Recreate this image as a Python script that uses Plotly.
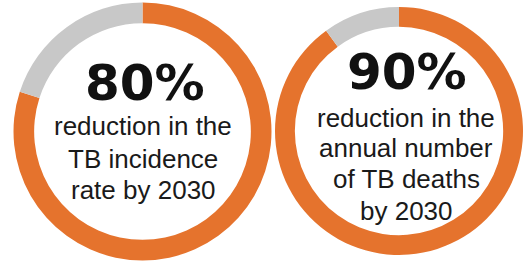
import plotly.graph_objects as go

# Data
targets = ["80%", "90%"]
reduction_pct = [80, 90]
slice_labels = ["Reduction", "Remaining"]
text_lines = [
    ["reduction in the", "TB incidence", "rate by 2030"],
    ["reduction in the", "annual number", "of TB deaths", "by 2030"],
]

W, H = 524, 263
ORANGE = "#E5732D"
GRAY = "#C8C8C8"

# ring geometry in px (center x, center y, radius)
rings = [(142.5, 131.5, 129), (399, 131, 124)]

fig = go.Figure()
for i, (cx, cy, r) in enumerate(rings):
    vals = [reduction_pct[i], 100 - reduction_pct[i]]
    fig.add_trace(go.Pie(
        values=vals, labels=slice_labels, sort=False,
        direction="clockwise", rotation=0,
        hole=0.84, textinfo="none", hoverinfo="label+value",
        marker=dict(colors=[ORANGE, GRAY], line=dict(width=0)),
        domain=dict(x=[(cx - r) / W, (cx + r) / W],
                    y=[(H - cy - r) / H, (H - cy + r) / H]),
        showlegend=False,
    ))

def py(ypx):
    return 1 - ypx / H

# Big percentages
big_pos = [(145, 82.5), (407, 72.5)]
for i, (x, y) in enumerate(big_pos):
    fig.add_annotation(x=x / W, y=py(y), xref="paper", yref="paper",
                       text=targets[i], showarrow=False, borderpad=0,
                       xanchor="center", yanchor="middle",
                       font=dict(family="DejaVu Sans", size=50, color="#111111", weight="bold"))

line_pos = [
    (143, [126.5, 159, 190]),
    (406, [117.5, 147.5, 178.5, 210.5]),
]
for i, (x, ys) in enumerate(line_pos):
    for t, y in zip(text_lines[i], ys):
        fig.add_annotation(x=x / W, y=py(y), xref="paper", yref="paper",
                           text=t, showarrow=False, borderpad=0,
                           xanchor="center", yanchor="middle",
                           font=dict(family="Liberation Sans, Arial", size=26, color="#1a1a1a"))

fig.update_layout(width=W, height=H, margin=dict(l=0, r=0, t=0, b=0),
                  paper_bgcolor="white", plot_bgcolor="white")
fig.write_html("out.html", config={"displayModeBar": False},
               post_script="document.body.style.margin='0';document.body.style.overflow='hidden';")
